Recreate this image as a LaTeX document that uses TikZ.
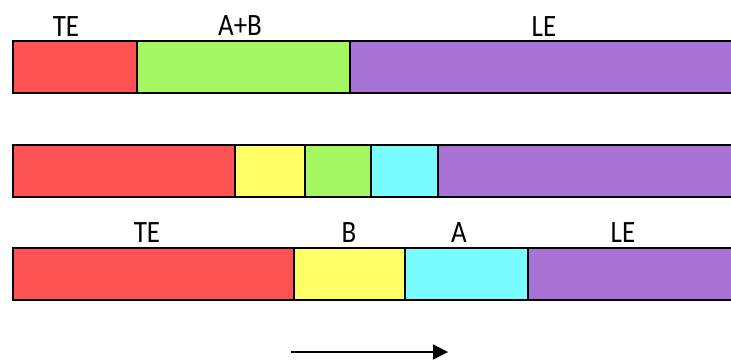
\documentclass[tikz,border=0pt]{standalone}
\usepackage{fontspec}
\setmainfont{Carlito}
\usetikzlibrary{arrows.meta}
\definecolor{cred}{RGB}{255,82,82}
\definecolor{cgreen}{RGB}{164,247,96}
\definecolor{cyell}{RGB}{255,255,102}
\definecolor{ccyan}{RGB}{122,253,255}
\definecolor{cpurp}{RGB}{169,115,214}
\begin{document}
\begin{tikzpicture}[x=1pt,y=-1pt,
  cellA/.style={draw=black,line width=1.7pt},
  cellB/.style={draw=black,line width=2.2pt},
  lbl/.style={anchor=base,inner sep=0pt,font=\fontsize{27}{30}\selectfont,yscale=1.15},
  arr/.style={line width=1.3pt,-{Triangle[length=15pt,width=15pt]}}]
\useasboundingbox (0,0) rectangle (731,360);
\clip (0,0) rectangle (731,360);
% row 1
\path[cellA,fill=cred]   (13,41) rectangle (137,93);
\path[cellA,fill=cgreen] (137,41) rectangle (350,93);
\path[cellA,fill=cpurp]  (350,41) rectangle (740,93);
\node[lbl] (t1) at (66,36) {TE};
\node[lbl] (t2) at (240,35) {A+B};
\node[lbl] (t3) at (544,36) {LE};
% row 2
\path[cellB,fill=cred]   (13,145) rectangle (235,197);
\path[cellB,fill=cyell]  (235,145) rectangle (305,197);
\path[cellB,fill=cgreen] (305,145) rectangle (371,197);
\path[cellB,fill=ccyan]  (371,145) rectangle (438,197);
\path[cellB,fill=cpurp]  (438,145) rectangle (740,197);
% row 3
\path[cellA,fill=cred]   (13,248) rectangle (294,300);
\path[cellA,fill=cyell]  (294,248) rectangle (405,300);
\path[cellA,fill=ccyan]  (405,248) rectangle (528,300);
\path[cellA,fill=cpurp]  (528,248) rectangle (740,300);
\node[lbl] (b1) at (147,242) {TE};
\node[lbl] (b2) at (349,242) {B};
\node[lbl] (b3) at (459,242) {A};
\node[lbl] (b4) at (623,242) {LE};
% arrow
\coordinate (as) at (291,352);
\coordinate (ae) at (448,352);
\draw[arr] (as) -- (ae);
\end{tikzpicture}
\end{document}
